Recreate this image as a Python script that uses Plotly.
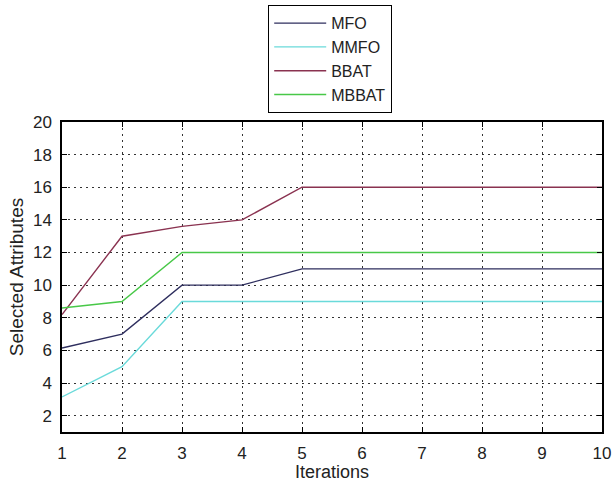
import plotly.graph_objects as go

iterations = [1, 2, 3, 4, 5, 6, 7, 8, 9, 10]
mfo = [6.15, 7, 10, 10, 11, 11, 11, 11, 11, 11]
mmfo = [3.15, 5, 9, 9, 9, 9, 9, 9, 9, 9]
bbat = [8.2, 13, 13.6, 14, 16, 16, 16, 16, 16, 16]
mbbat = [8.6, 9, 12, 12, 12, 12, 12, 12, 12, 12]

series = [
    ("MFO", mfo, "#2e2e5e"),
    ("MMFO", mmfo, "#6adada"),
    ("BBAT", bbat, "#8a3250"),
    ("MBBAT", mbbat, "#48c848"),
]

y_ticks = [2, 4, 6, 8, 10, 12, 14, 16, 18, 20]

FONT = "Liberation Sans, Arial, sans-serif"

fig = go.Figure()
for name, vals, color in series:
    fig.add_trace(go.Scatter(
        x=iterations, y=vals, name=name, mode="lines",
        line=dict(color=color, width=1.4),
    ))

axis_common = dict(
    showline=True, linecolor="black", linewidth=1.5, mirror="ticks",
    ticks="inside", ticklen=5, tickcolor="black",
    showgrid=True, gridcolor="#333", gridwidth=1, griddash="1.5px,4.5px",
    zeroline=False, automargin=False,
    tickfont=dict(family=FONT, size=17, color="#222"),
)

# plot area spans 62..602 px horizontally and 122..432 px vertically
fig.update_layout(
    width=612, height=482,
    margin=dict(l=62, r=10, t=122, b=50, autoexpand=False),
    paper_bgcolor="white", plot_bgcolor="white",
    font=dict(family=FONT, color="#222"),
    xaxis=dict(
        range=[1, 10], tickvals=iterations, ticklabelstandoff=5,
        title=dict(text="Iterations", font=dict(size=18), standoff=8),
        **axis_common,
    ),
    yaxis=dict(
        range=[1, 20], tickvals=y_ticks, ticklabelstandoff=5,
        title=dict(text="Selected Attributes", font=dict(size=19), standoff=4),
        **axis_common,
    ),
    legend=dict(
        x=(268 - 62) / 540, y=(432 - 5) / 310, xanchor="left", yanchor="top",
        bordercolor="black", borderwidth=1.2, bgcolor="white",
        font=dict(size=16, color="#222"),
        tracegroupgap=0, itemwidth=52,
    ),
    showlegend=True,
)

fig.write_html("out.html")
